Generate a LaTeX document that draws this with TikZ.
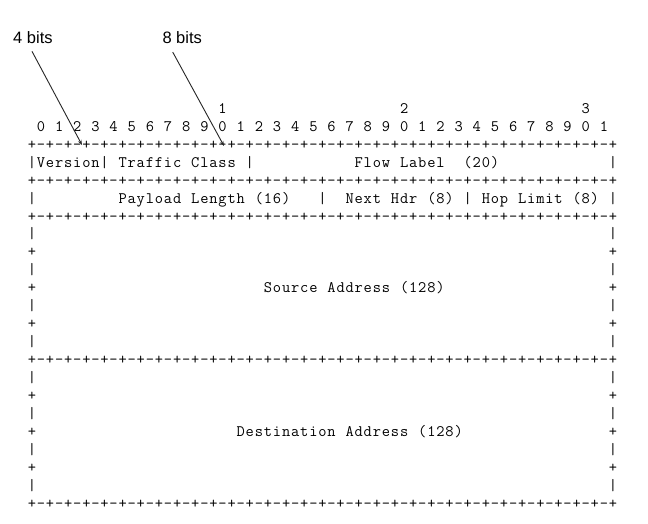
\documentclass[tikz,border=0pt]{standalone}
\usepackage{fontspec}
\newfontfamily\lblfont{Liberation Sans}
\usetikzlibrary{arrows.meta}
\newdimen\mycw \mycw=9.08pt
\newcommand\mrowend{}
\def\mrowi#1{\ifx#1\mrowend\else\ifx#1.\hbox to\mycw{}\else\hbox to\mycw{\hss#1\hss}\fi\expandafter\mrowi\fi}
\newcommand\mrow[1]{\edef\mrowtmp{#1}\expandafter\mrowi\mrowtmp\mrowend}
\def\bseg{+-+-+-+-+-+-+-+-}
\newcommand\place[4]{\node[mono] (#1) at ({27.16+#2*9.08},{113.3+#3*17.95}) {\mrow{#4}};}
\begin{document}
\begin{tikzpicture}[x=1pt,y=-1pt,
  mono/.style={anchor=base west,inner sep=0pt,font=\ttfamily\fontsize{16}{19}\selectfont},
  lbl/.style={anchor=base west,inner sep=0pt,font=\lblfont\fontsize{16.5}{20}\selectfont},
  arr/.style={-{Stealth[length=5pt,width=3.6pt]},line width=0.9pt,black!85}]
\fill[white] (0,0) rectangle (648,524);
\useasboundingbox (0,0) rectangle (648,524);
% bit numbers
\place{t1}{21}{0}{1}
\place{t2}{41}{0}{2}
\place{t3}{61}{0}{3}
\place{digits}{1}{1}{0.1.2.3.4.5.6.7.8.9.0.1.2.3.4.5.6.7.8.9.0.1.2.3.4.5.6.7.8.9.0.1}
% borders
\foreach \r/\n in {2/b1,4/b2,6/b3,14/b4,22/b5} {\place{\n}{0}{\r}{\bseg\bseg\bseg\bseg+}}
% version line
\place{vl}{0}{3}{|Version|.Traffic.Class.|}
\place{flow}{36}{3}{Flow.Label..(20)}
\place{vr}{64}{3}{|}
% payload line
\place{pl}{0}{5}{|}
\place{plen}{10}{5}{Payload.Length.(16)}
\place{psepa}{32}{5}{|}
\place{nh}{35}{5}{Next.Hdr.(8)}
\place{psepb}{48}{5}{|}
\place{hl}{50}{5}{Hop.Limit.(8)}
\place{pr}{64}{5}{|}
% address sides
\foreach \r in {7,9,11,13,15,17,19,21} {\place{sl\r}{0}{\r}{|}\place{sr\r}{64}{\r}{|}}
\foreach \r in {8,10,12,16,18,20} {\place{pl\r}{0}{\r}{+}\place{pr\r}{64}{\r}{+}}
\place{src}{26}{10}{Source.Address.(128)}
\place{dst}{23}{18}{Destination.Address.(128)}
% annotations
\node[lbl] (l4) at (13,43.3) {4 bits};
\node[lbl] (l8) at (162.3,43.3) {8 bits};
\coordinate (t4) at (82,145);
\coordinate (t8) at (224,146);
\draw[arr] ([xshift=19pt,yshift=-7.7pt]l4.south west) -- (t4);
\draw[arr] ([xshift=10.4pt,yshift=-8.4pt]l8.south west) -- (t8);
\end{tikzpicture}
\end{document}
